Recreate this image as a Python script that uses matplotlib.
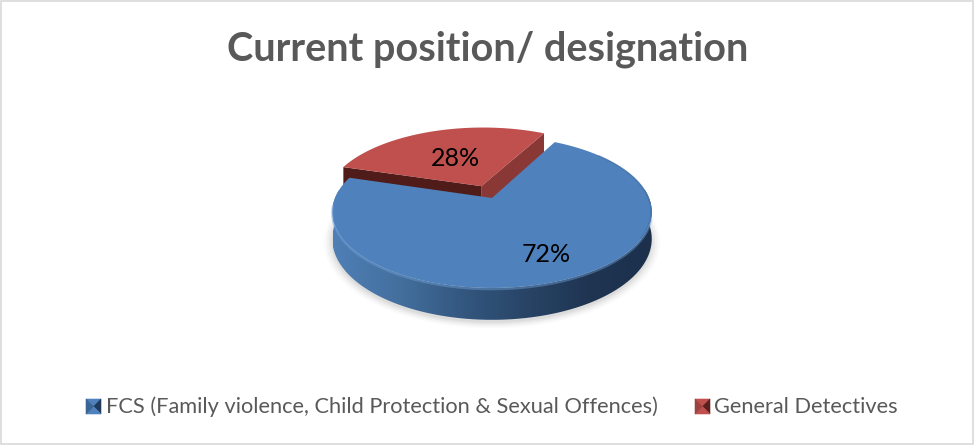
from __future__ import annotations

import numpy as np
import matplotlib
matplotlib.use("Agg")
import matplotlib.pyplot as plt
from matplotlib.colors import LinearSegmentedColormap
from matplotlib.patches import Polygon, Rectangle

title = "Current position/ designation"
categories = ["FCS (Family violence, Child Protection & Sexual Offences)", "General Detectives"]
shares = [72, 28]

plt.rcParams["font.family"] = ["Lato", "DejaVu Sans"]

GRAY = "#595959"
# disc placement in pixels, with a small perspective term for the tilt
CX, CY = 492.0, 198.0
RX, RY = 157.0, 73.4
PERSP = 0.184
DEPTH = 26.0
RED_START = 62.3
EXPLODE = 0.18


def project(x, y, drop=0.0):
    x = np.asarray(x, dtype=float)
    y = np.asarray(y, dtype=float)
    w = 1 + PERSP * y
    return CX + RX * x / w, CY - RY * y / w + drop / w


def ring(a0, a1, n=240):
    t = np.radians(np.linspace(a0, a1, n))
    return np.cos(t), np.sin(t)


def poly(ax, xs, ys, color, z, seam=False):
    patch = Polygon(np.column_stack([xs, ys]), closed=True, facecolor=color,
                    edgecolor=color if seam else "none", lw=0.4 if seam else 0, zorder=z)
    ax.add_patch(patch)
    return patch


def draw_shadow(ax):
    x, y = ring(0, 360)
    for grow, alpha in [(1.05, 0.02), (1.035, 0.03), (1.02, 0.04), (1.005, 0.05)]:
        px, py = project(x * grow, y * grow, DEPTH + 2)
        ax.add_patch(Polygon(np.column_stack([px, py]), closed=True, facecolor="black",
                             edgecolor="none", alpha=alpha, zorder=1))


def draw_red_slice(ax, sweep):
    mid = np.radians(RED_START + sweep / 2)
    ox, oy = EXPLODE * np.cos(mid), EXPLODE * np.sin(mid)
    x, y = ring(RED_START, RED_START + sweep)
    x, y = x + ox, y + oy

    # cut faces first, the top face goes over them
    for end, color in [(0, "#8a3836"), (-1, "#4f1c1a")]:
        ex = np.array([ox, x[end], x[end], ox])
        ey = np.array([oy, y[end], y[end], oy])
        px0, py0 = project(ex[:2], ey[:2])
        px1, py1 = project(ex[:2], ey[:2], DEPTH)
        poly(ax, np.r_[px0, px1[::-1]], np.r_[py0, py1[::-1]], color, 2 if end == 0 else 3)

    px, py = project(np.r_[ox, x], np.r_[oy, y])
    poly(ax, px, py, "#c0504d", 4)


def draw_blue_slice(ax, sweep):
    a0 = RED_START + 360 - sweep
    a1 = RED_START + 360

    # rim wall with a left to right shading
    x, y = ring(150, 400)
    tx, ty = project(x, y)
    bx, by = project(x, y, DEPTH)
    wall = poly(ax, np.r_[tx, bx[::-1]], np.r_[ty, by[::-1]], "none", 5)
    cmap = LinearSegmentedColormap.from_list(
        "rim", ["#4f7fb6", "#44709f", "#345880", "#284567", "#1f3552", "#1c304c"])
    img = ax.imshow(np.linspace(0, 1, 256)[None, :], cmap=cmap, extent=(333, 652, 330, 190),
                    aspect="auto", zorder=5, interpolation="bilinear")
    img.set_clip_path(wall)

    # top face, closing at the pie centre
    x, y = ring(a0, a1)
    px, py = project(np.r_[0, x], np.r_[0, y])
    poly(ax, px, py, "#4f81bd", 6)

    # bevel along the front of the rim
    x, y = ring(185, 345)
    px, py = project(x, y, 1.0)
    ax.plot(px, py, color="#6f9fd6", lw=1.6, alpha=0.45, zorder=7, solid_capstyle="round")
    x, y = ring(330, 400)
    px, py = project(x * 0.995, y * 0.995)
    ax.plot(px, py, color="#3a6492", lw=1.2, alpha=0.35, zorder=7)


def draw_legend_key(ax, x, y, size, colors):
    # small pyramid swatch: top, right, bottom, left facets
    cx, cy = x + size / 2, y + size / 2
    corners = [(x, y), (x + size, y), (x + size, y + size), (x, y + size)]
    for i, color in enumerate(colors):
        a, b = corners[i], corners[(i + 1) % 4]
        poly(ax, [a[0], b[0], cx], [a[1], b[1], cy], color, 8, seam=True)


def main() -> None:
    fig = plt.figure(figsize=(9.74, 4.45), dpi=100)
    ax = fig.add_axes([0, 0, 1, 1])
    ax.set_xlim(0, 974)
    ax.set_ylim(445, 0)
    ax.axis("off")

    ax.add_patch(Rectangle((0.5, 0.5), 972.5, 443, facecolor="white", edgecolor="#d9d9d9", lw=1.2, zorder=0))

    blue_sweep, red_sweep = [s * 3.6 for s in shares]
    draw_shadow(ax)
    draw_red_slice(ax, red_sweep)
    draw_blue_slice(ax, blue_sweep)

    ax.text(488, 49, title, ha="center", va="center", fontsize=28.5, fontweight="bold", color=GRAY, zorder=9)

    ax.text(546, 254, f"{shares[0]}%", ha="center", va="center", fontsize=18, color="black", zorder=9)
    ax.text(455, 158, f"{shares[1]}%", ha="center", va="center", fontsize=18, color="black", zorder=9)

    draw_legend_key(ax, 86, 399, 15, ["#4f81bd", "#1f3a5c", "#4f81bd", "#3a6494"])
    ax.text(106, 407, categories[0], ha="left", va="center", fontsize=15.65, color=GRAY, zorder=9)
    draw_legend_key(ax, 695, 399, 15, ["#c0504d", "#5c1f1d", "#c0504d", "#9c4240"])
    ax.text(714, 407, categories[1], ha="left", va="center", fontsize=15.7, color=GRAY, zorder=9)

    fig.savefig("out.png", dpi=100, facecolor="white")
    plt.close(fig)


if __name__ == "__main__":
    main()
